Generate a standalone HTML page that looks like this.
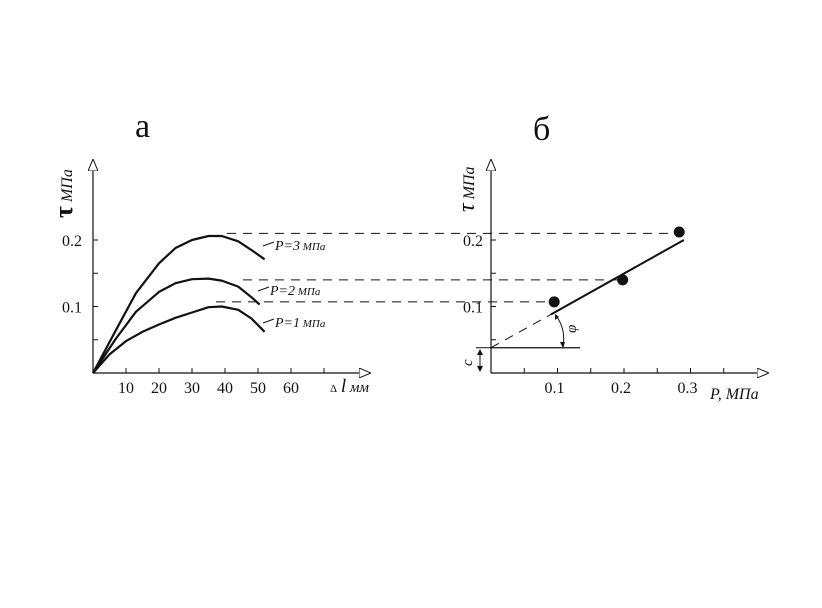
<!DOCTYPE html>
<html><head><meta charset="utf-8"><style>
body{margin:0;background:#fff}
svg{display:block}
text{font-family:"Liberation Serif","DejaVu Serif",serif;fill:#111}
</style></head><body>
<svg width="822" height="608" viewBox="0 0 822 608">
<defs>
<marker id="ar" viewBox="0 0 12 10" refX="11" refY="5" markerWidth="12" markerHeight="10" markerUnits="userSpaceOnUse" orient="auto"><path d="M0,0 L12,5 L0,10 Z" fill="#fff" stroke="#111" stroke-width="1"/></marker>
</defs>
<text x="135" y="137" font-size="34" font-family="Liberation Sans">а</text>
<text x="533" y="140" font-size="34" font-family="Liberation Sans">б</text>
<g id="left"></g>
<g id="right"></g>
<g id="dash"></g>
</svg>
<script>
const xTicksL=[10,20,30,40,50,60];
const yTicksL=[0.1,0.2];
const curveNames=["P=3","P=2","P=1"];
const curve3X=[0,7,13,20,25,30,35,39,44,48,52];
const curve3Y=[0,0.065,0.12,0.165,0.188,0.2,0.206,0.206,0.198,0.185,0.171];
const curve2X=[0,7,13,20,25,30,35,39,44,48,50.5];
const curve2Y=[0,0.052,0.092,0.122,0.135,0.141,0.142,0.139,0.13,0.114,0.103];
const curve1X=[0,5,10,15,20,25,30,35,39,44,48,52];
const curve1Y=[0,0.028,0.048,0.062,0.073,0.083,0.091,0.099,0.1,0.095,0.082,0.062];
const xTicksR=[0.1,0.2,0.3];
const pointsX=[0.095,0.198,0.283];
const pointsY=[0.107,0.14,0.212];
const fitX=[0.09,0.29];
const fitY=[0.088,0.2];
const cohesion=0.038;
const NS="http://www.w3.org/2000/svg";
const lx=v=>93+v*3.3, ly=v=>373-v*665;
const rx=v=>491+v*665, ry=v=>373-v*665;
function mk(p,t,a){const e=document.createElementNS(NS,t);for(const k in a)e.setAttribute(k,a[k]);p.appendChild(e);return e;}
const L=document.getElementById('left'),R=document.getElementById('right'),D=document.getElementById('dash');
// left axes
let e=mk(L,'line',{x1:93,y1:373,x2:93,y2:160,stroke:'#111','stroke-width':1.2,'marker-end':'url(#ar)'});

e=mk(L,'line',{x1:93,y1:373,x2:370,y2:373,stroke:'#111','stroke-width':1.2,'marker-end':'url(#ar)'});

[10,20,30,40,50,60,70].forEach(v=>mk(L,'line',{x1:lx(v),y1:373,x2:lx(v),y2:368,stroke:'#111'}));
xTicksL.forEach(v=>{e=mk(L,'text',{x:lx(v),y:393,'font-size':16,'text-anchor':'middle'});e.textContent=v;
});
[0.05,0.1,0.15,0.2].forEach(v=>mk(L,'line',{x1:93,y1:ly(v),x2:98,y2:ly(v),stroke:'#111'}));
yTicksL.forEach(v=>{e=mk(L,'text',{x:82,y:ly(v)+6,'font-size':16,'text-anchor':'end'});e.textContent=v.toFixed(1);
});
e=mk(L,'text',{transform:'translate(72,218) rotate(-90)','font-size':16,'font-style':'italic'});
e.innerHTML='<tspan font-size="26" font-style="normal" font-weight="bold">τ</tspan> МПа';

e=mk(L,'text',{x:330,y:392,'font-size':15,'font-style':'italic'});
e.innerHTML='<tspan font-size="11" font-style="normal">Δ</tspan> <tspan font-size="19">l</tspan> мм';

const curves=[[curve3X,curve3Y],[curve2X,curve2Y],[curve1X,curve1Y]];
const lbl=[[275,250,"3"],[270,295,"2"],[275,327,"1"]];
curves.forEach((c,i)=>{
 let d=c[0].map((x,j)=>(j?'L':'M')+lx(x).toFixed(1)+','+ly(c[1][j]).toFixed(1)).join(' ');
 e=mk(L,'path',{d:d,fill:'none',stroke:'#111','stroke-width':2.2,'stroke-linejoin':'round'});
 
 const ex=lx(c[0][c[0].length-1]),ey=ly(c[1][c[1].length-1]);
 mk(L,'line',{x1:lbl[i][0]-12,y1:lbl[i][1]-4,x2:lbl[i][0]-1,y2:lbl[i][1]-8,stroke:'#111'});
 e=mk(L,'text',{x:lbl[i][0],y:lbl[i][1],'font-size':14,'font-style':'italic'});
 e.innerHTML='P='+lbl[i][2]+'<tspan font-size="11"> МПа</tspan>';
 
});
// dashed guides
const pk=[[0.21,227,680],[0.14,243,620],[0.107,216,555]];
pk.forEach(p=>{e=mk(D,'line',{x1:p[1],y1:ly(p[0]),x2:p[2],y2:ly(p[0]),stroke:'#111','stroke-width':1,'stroke-dasharray':'9,7'});
});
// right axes
e=mk(R,'line',{x1:491,y1:373,x2:491,y2:160,stroke:'#111','stroke-width':1.2,'marker-end':'url(#ar)'});

e=mk(R,'line',{x1:491,y1:373,x2:768,y2:373,stroke:'#111','stroke-width':1.2,'marker-end':'url(#ar)'});

[0.05,0.1,0.15,0.2,0.25,0.3,0.35].forEach(v=>mk(R,'line',{x1:rx(v),y1:373,x2:rx(v),y2:368,stroke:'#111'}));
[0.05,0.1,0.15,0.2].forEach(v=>mk(R,'line',{x1:491,y1:ry(v),x2:496,y2:ry(v),stroke:'#111'}));
xTicksR.forEach(v=>{e=mk(R,'text',{x:rx(v)-3,y:393,'font-size':16,'text-anchor':'middle'});e.textContent=v.toFixed(1);
});
yTicksL.forEach(v=>{e=mk(R,'text',{x:483,y:ry(v)+6,'font-size':16,'text-anchor':'end'});e.textContent=v.toFixed(1);
});
e=mk(R,'text',{transform:'translate(474,212) rotate(-90)','font-size':16,'font-style':'italic'});
e.innerHTML='<tspan font-size="24">τ</tspan> МПа';

e=mk(R,'text',{x:710,y:399,'font-size':16,'font-style':'italic'});e.textContent='P, МПа';

// fit line
e=mk(R,'line',{x1:rx(fitX[0]),y1:ry(fitY[0]),x2:rx(fitX[1]),y2:ry(fitY[1]),stroke:'#111','stroke-width':2});

e=mk(R,'line',{x1:491,y1:ry(cohesion),x2:rx(fitX[0]),y2:ry(fitY[0]),stroke:'#111','stroke-width':1,'stroke-dasharray':'9,7'});

e=mk(R,'line',{x1:491,y1:ry(cohesion),x2:580,y2:ry(cohesion),stroke:'#111','stroke-width':1.2});

pointsX.forEach((x,i)=>{e=mk(R,'circle',{cx:rx(x),cy:ry(pointsY[i]),r:5.5,fill:'#111'});
});
// angle arc
e=mk(R,'path',{d:'M557,317 Q566,330 563,348',fill:'none',stroke:'#111','stroke-width':1});

mk(R,'path',{d:'M555,314 l0,6 l4,-3 Z',fill:'#111'});
mk(R,'path',{d:'M563,348 l-3,-6 l5,0 Z',fill:'#111'});
e=mk(R,'text',{transform:'translate(576,333) rotate(-90)','font-size':15,'font-style':'italic'});e.textContent='φ';

e=mk(R,'line',{x1:480,y1:350,x2:480,y2:371,stroke:'#111','stroke-width':1});

mk(R,'path',{d:'M480,349 l-3,6 l6,0 Z',fill:'#111'});
mk(R,'path',{d:'M480,372 l-3,-6 l6,0 Z',fill:'#111'});
mk(R,'line',{x1:476,y1:ry(cohesion),x2:491,y2:ry(cohesion),stroke:'#111'});
e=mk(R,'text',{transform:'translate(472,366) rotate(-90)','font-size':15,'font-style':'italic'});e.textContent='c';

</script>
</body></html>
